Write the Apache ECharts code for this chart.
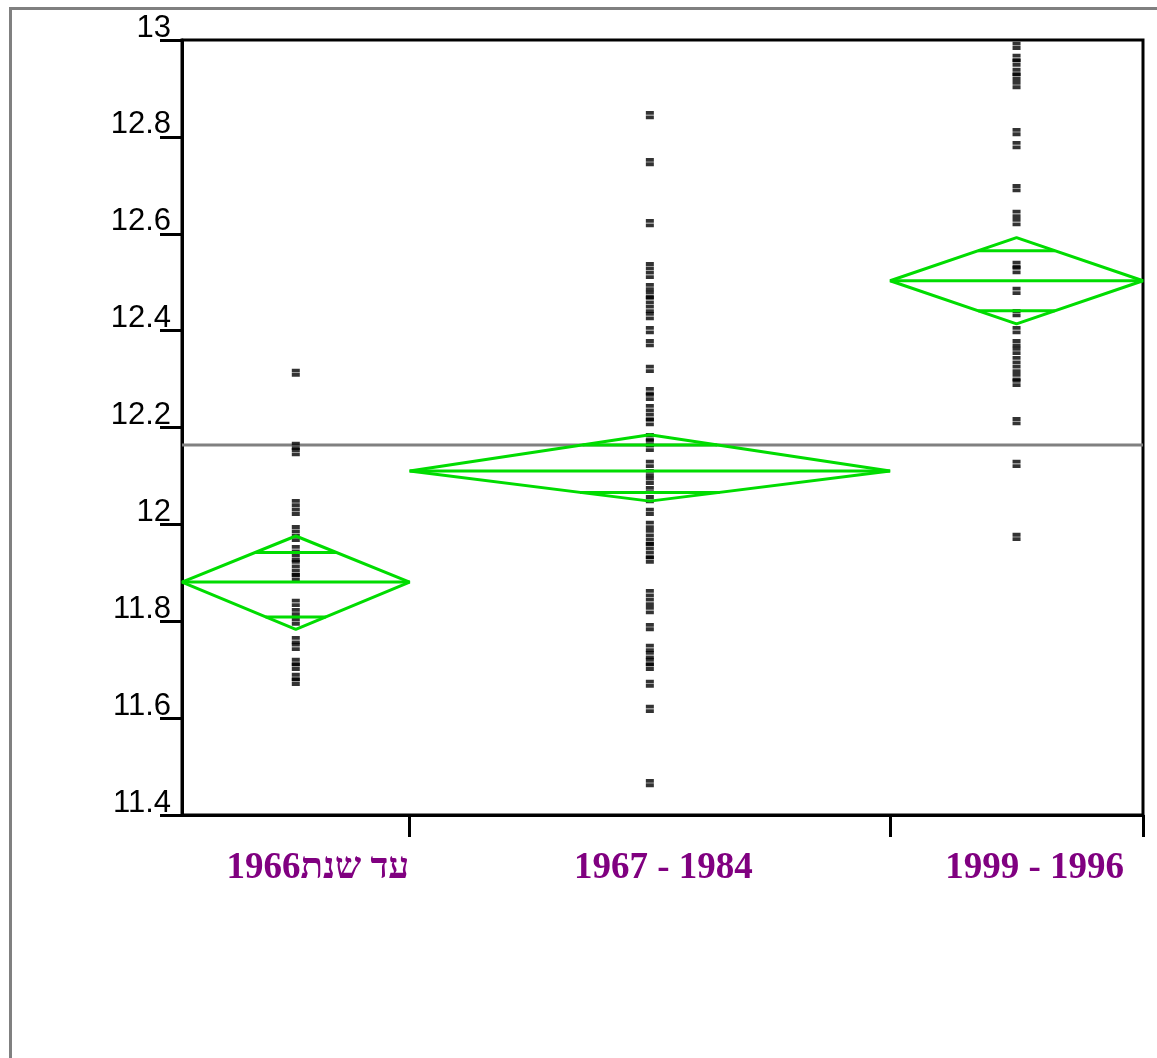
<!DOCTYPE html>
<html>
<head>
<meta charset="utf-8">
<script src="https://cdn.jsdelivr.net/npm/echarts@6/dist/echarts.min.js"></script>
<style>
html,body{margin:0;padding:0;background:#fff;}
#chart{width:1157px;height:1058px;}
</style>
</head>
<body>
<div id="chart"></div>
<script>
// ---- data ----
const groupLabels = ['עד שנת1966', '1967 - 1984', '1999 - 1996'];
const groupSizes = [45, 95, 50];
const group1Values = [12.313, 12.162, 12.149, 12.044, 12.026, 11.990, 11.972, 11.949, 11.931, 11.918, 11.900, 11.891,
  11.838, 11.819, 11.799, 11.761, 11.747, 11.716, 11.706, 11.685, 11.675];
const group2Values = [12.845, 12.748, 12.622, 12.533, 12.515, 12.490, 12.474, 12.463, 12.445, 12.430, 12.401, 12.374,
  12.321, 12.275, 12.263, 12.240, 12.222, 12.211, 12.180, 12.168, 12.158, 12.125, 12.106, 12.090, 12.071, 12.052,
  12.026, 11.999, 11.982, 11.964, 11.955, 11.937, 11.927, 11.858, 11.840, 11.823, 11.788, 11.745, 11.730, 11.716,
  11.706, 11.671, 11.619, 11.466];
const group3Values = [12.988, 12.963, 12.953, 12.934, 12.924, 12.907, 12.810, 12.783, 12.694, 12.641, 12.624, 12.536,
  12.525, 12.482, 12.436, 12.401, 12.374, 12.358, 12.339, 12.321, 12.304, 12.292, 12.213, 12.125, 11.974];
const groupMeans = [11.881, 12.110, 12.503];
const ciUpper = [11.976, 12.185, 12.592];
const ciLower = [11.783, 12.048, 12.414];
const overlapUpper = [11.942, 12.164, 12.565];
const overlapLower = [11.809, 12.066, 12.441];
const grandMean = 12.164;
const yMin = 11.4, yMax = 13, yStep = 0.2;

// ---- derived structures ----
const groupValues = [group1Values, group2Values, group3Values];
const starts = [], ends = [], centers = [];
let acc = 0;
groupSizes.forEach(n => { starts.push(acc); acc += n; ends.push(acc); centers.push((starts[starts.length-1] + acc) / 2); });
const total = acc;

const pointData = [];
groupValues.forEach((vals, g) => vals.forEach(v => pointData.push([centers[g], v])));

const diamondData = groupMeans.map((m, g) => [starts[g], ends[g], m, ciUpper[g], ciLower[g], overlapUpper[g], overlapLower[g]]);

const GREEN = '#00dc00';
function renderDiamond(params, api) {
  const x0 = api.value(0), x1 = api.value(1), m = api.value(2), t = api.value(3), b = api.value(4),
        mh = api.value(5), ml = api.value(6);
  const xc = (x0 + x1) / 2, hw = (x1 - x0) / 2;
  const pL = api.coord([x0, m]), pR = api.coord([x1, m]), pT = api.coord([xc, t]), pB = api.coord([xc, b]);
  const wH = (1 - (mh - m) / (t - m)) * hw;
  const wL = (1 - (m - ml) / (m - b)) * hw;
  const hA = api.coord([xc - wH, mh]), hB = api.coord([xc + wH, mh]);
  const lA = api.coord([xc - wL, ml]), lB = api.coord([xc + wL, ml]);
  const st = { stroke: GREEN, lineWidth: 3, fill: null, lineJoin: 'bevel' };
  return {
    type: 'group',
    children: [
      { type: 'polygon', shape: { points: [pL, pT, pR, pB] }, style: st },
      { type: 'line', shape: { x1: pL[0], y1: pL[1], x2: pR[0], y2: pR[1] }, style: st },
      { type: 'line', shape: { x1: hA[0], y1: hA[1], x2: hB[0], y2: hB[1] }, style: st },
      { type: 'line', shape: { x1: lA[0], y1: lA[1], x2: lB[0], y2: lB[1] }, style: st }
    ]
  };
}

const chart = echarts.init(document.getElementById('chart'), null, { renderer: 'canvas' });
const labelRich = {
  a: { padding: [0, 0, 0, 44] },
  b: { padding: [0, 0, 0, 27] },
  c: { padding: [0, 0, 0, 36] }
};
const richKeys = ['a', 'b', 'c'];

chart.setOption({
  animation: false,
  backgroundColor: '#fff',
  graphic: [{
    type: 'rect', left: 8, top: 6, z: -10,
    shape: { width: 1300, height: 1200 },
    style: { fill: null, stroke: '#808080', lineWidth: 3 }
  }],
  grid: {
    left: 182, right: 14, top: 40, bottom: 243,
    show: true, borderColor: '#000', borderWidth: 3, backgroundColor: 'transparent'
  },
  xAxis: {
    type: 'value', min: 0, max: total,
    axisLine: { show: true, lineStyle: { color: '#000', width: 3 } },
    axisTick: { show: true, inside: false, length: 22, lineStyle: { color: '#000', width: 3 }, customValues: ends },
    splitLine: { show: false },
    axisLabel: {
      show: true, customValues: centers, margin: 35,
      fontFamily: '"Liberation Serif", "Times New Roman", serif', fontWeight: 'bold', fontSize: 37, color: '#800080',
      formatter: function (val) {
        let idx = 0, best = Infinity;
        centers.forEach((c, i) => { if (Math.abs(c - val) < best) { best = Math.abs(c - val); idx = i; } });
        return '{' + richKeys[idx] + '|' + groupLabels[idx] + '}';
      },
      rich: labelRich
    }
  },
  yAxis: {
    type: 'value', min: yMin, max: yMax, interval: yStep,
    axisLine: { show: true, lineStyle: { color: '#000', width: 3 } },
    axisTick: { show: true, inside: false, length: 22, lineStyle: { color: '#000', width: 3 } },
    splitLine: { show: false },
    axisLabel: {
      margin: 11, color: '#000', fontFamily: '"Liberation Sans", Arial, sans-serif', fontSize: 31,
      verticalAlign: 'bottom', lineHeight: 24,
      showMinLabel: true, showMaxLabel: true
    }
  },
  series: [
    {
      type: 'line', name: 'grand mean', data: [[0, grandMean], [total, grandMean]],
      symbol: 'none', lineStyle: { color: '#808080', width: 3 }, z: 1, silent: true
    },
    {
      type: 'scatter', name: 'points', data: pointData,
      symbol: 'path://M0,0H8V3.8H0Z M0,4.4H8V8.2H0Z', symbolSize: [8, 8.2],
      itemStyle: { color: '#000' }, z: 2, silent: true
    },
    {
      type: 'custom', name: 'diamonds', data: diamondData, renderItem: renderDiamond,
      encode: { x: [0, 1], y: [2, 3, 4] }, z: 3, silent: true
    }
  ]
});
</script>
</body>
</html>
